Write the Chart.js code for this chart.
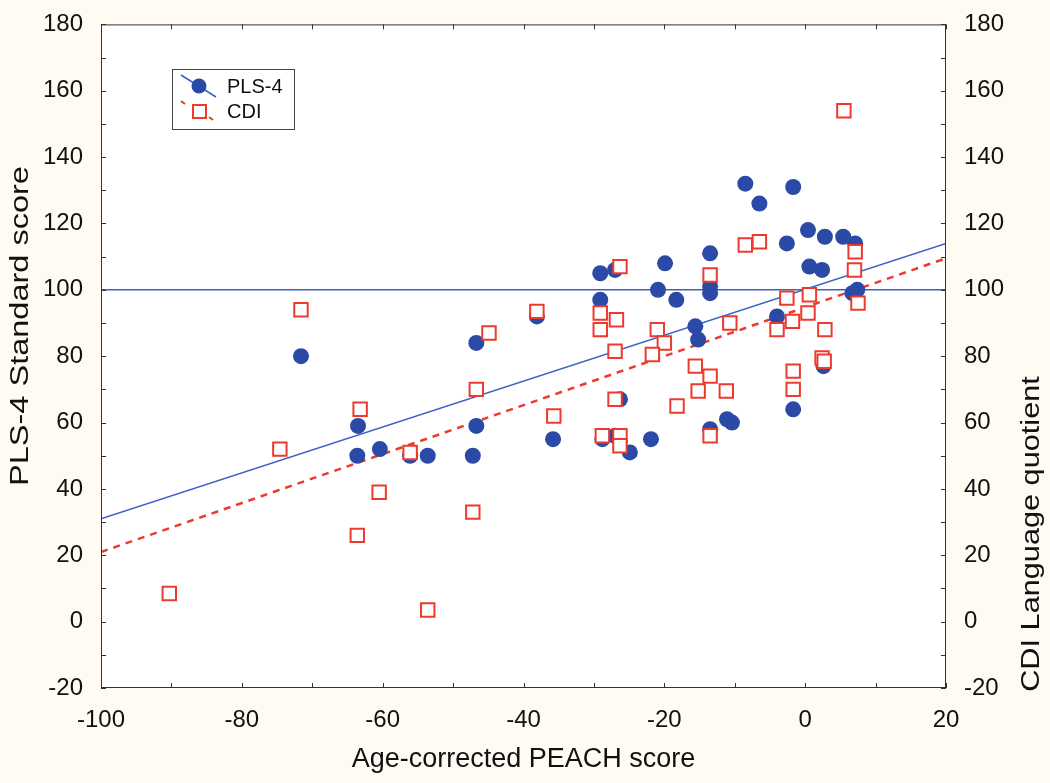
<!DOCTYPE html>
<html><head><meta charset="utf-8">
<script src="https://cdn.jsdelivr.net/npm/chart.js@4/dist/chart.umd.min.js"></script>
<style>
html,body{margin:0;padding:0;background:#fffaf2;}
#wrap{width:1050px;height:783px;position:relative;}
</style></head><body>
<div id="wrap"><canvas id="c" width="1050" height="783"></canvas></div>
<script>
// PLS-4 standard scores vs age-corrected PEACH score
const plsX = [-71.6,-63.5,-63.6,-60.4,-56.1,-53.6,-47.2,-46.7,-46.7,-38.1,-35.8,-29.1,-29.1,-27.0,-28.8,-27.0,-24.9,-26.3,-21.9,-20.9,-19.9,-18.3,-15.6,-15.2,-13.5,-13.5,-13.5,-11.1,-10.4,-13.5,-8.5,-6.5,-1.7,-2.6,-4.0,-1.7,0.4,0.6,2.4,2.8,5.4,7.1,7.4,6.7,2.6];
const plsY = [80,59,50,52,50,50,50,84,59,92,55,105,97,106,55,56,51,67,55,100,108,97,89,85,111,101,99,61,60,58,132,126,131,114,92,64,118,107,106,116,116,114,100,99,77];
// CDI language quotients vs age-corrected PEACH score
const cdiX = [-90.3,-74.6,-71.6,-63.2,-60.5,-63.6,-56.1,-53.6,-47.2,-44.9,-46.7,-38.1,-35.7,-29.1,-29.1,-26.8,-26.3,-27.0,-27.0,-28.8,-26.3,-26.3,-21.0,-20.0,-21.7,-15.6,-13.5,-15.2,-11.2,-18.2,-13.5,-13.5,-10.7,-8.5,-6.5,-4.0,-1.8,-2.6,0.6,0.4,2.8,2.4,2.7,-1.7,-1.7,5.5,7.1,7.0,7.5];
const cdiY = [8.5,52,94,64,39,26,51,3.5,33,87,70,93.5,62,93,88,91,107,81.5,67,56,56,53,88,84,80.5,77,74,69.5,69.5,65,56,104.5,90,113.5,114.5,88,90.5,97.5,98.5,93,88,79.5,78.5,75.5,70,154,111.5,106,96];
// Regression lines and reference line
const fitX = [-100, 20];
const plsFitY = [31, 114];
const cdiFitY = [21, 109.5];
const refY = [100, 100];
// Axis ticks
const xTicks = [-100,-80,-60,-40,-20,0,20];
const yTicks = [-20,0,20,40,60,80,100,120,140,160,180];
const seriesNames = ['PLS-4', 'CDI'];
const axisTitles = {x: 'Age-corrected PEACH score', y: 'PLS-4 Standard score', y2: 'CDI Language quotient'};

const BLUE = '#2a4aa6';
const BLUE_LINE = '#3a62c4';
const RED = '#ee3a2c';
const FONT = '"Liberation Sans", Arial, sans-serif';

const pts = (xs, ys) => xs.map((x, i) => ({x, y: ys[i]}));

const decor = {
  id: 'decor',
  beforeDraw(chart) {
    const {ctx, chartArea: a} = chart;
    ctx.save();
    ctx.fillStyle = '#fffaf2';
    ctx.fillRect(0, 0, chart.width, chart.height);
    ctx.fillStyle = '#ffffff';
    ctx.fillRect(a.left, a.top, a.right - a.left, a.bottom - a.top);
    ctx.restore();
  },
  afterDraw(chart) {
    const {ctx, chartArea: a, scales} = chart;
    ctx.save();
    ctx.strokeStyle = '#333';
    ctx.lineWidth = 1;
    ctx.strokeRect(a.left + 0.5, a.top + 0.5, a.right - a.left - 1, a.bottom - a.top - 1);
    const L = 5;
    ctx.beginPath();
    for (let v = xTicks[0]; v <= xTicks[xTicks.length - 1]; v += 10) {
      const px = Math.round(scales.x.getPixelForValue(v)) + 0.5;
      ctx.moveTo(px, a.bottom); ctx.lineTo(px, a.bottom - L);
      ctx.moveTo(px, a.top); ctx.lineTo(px, a.top + L);
    }
    for (let v = yTicks[0]; v <= yTicks[yTicks.length - 1]; v += 10) {
      const py = Math.round(scales.y.getPixelForValue(v)) + 0.5;
      ctx.moveTo(a.left, py); ctx.lineTo(a.left + L, py);
      ctx.moveTo(a.right, py); ctx.lineTo(a.right - L, py);
    }
    ctx.stroke();

    // axis titles
    ctx.fillStyle = '#111';
    ctx.font = '27px ' + FONT;
    ctx.textAlign = 'center';
    ctx.textBaseline = 'middle';
    ctx.fillText(axisTitles.x, (a.left + a.right) / 2, 760);
    ctx.font = '26px ' + FONT;
    ctx.save();
    ctx.translate(21, 326);
    ctx.rotate(-Math.PI / 2);
    ctx.scale(1.25, 1);
    ctx.fillText(axisTitles.y, 0, 0);
    ctx.restore();
    ctx.save();
    ctx.translate(1032, 534);
    ctx.rotate(-Math.PI / 2);
    ctx.scale(1.18, 1);
    ctx.fillText(axisTitles.y2, 0, 0);
    ctx.restore();

    // legend
    ctx.fillStyle = '#fff';
    ctx.fillRect(172, 69, 122, 60);
    ctx.strokeStyle = '#444';
    ctx.lineWidth = 1;
    ctx.strokeRect(172.5, 69.5, 122, 60);
    ctx.strokeStyle = BLUE_LINE; ctx.lineWidth = 1.5;
    ctx.beginPath(); ctx.moveTo(181, 75); ctx.lineTo(216, 97); ctx.stroke();
    ctx.fillStyle = BLUE;
    ctx.beginPath(); ctx.arc(199, 86, 7.5, 0, Math.PI * 2); ctx.fill();
    ctx.strokeStyle = RED; ctx.lineWidth = 2;
    ctx.beginPath();
    ctx.moveTo(181, 101); ctx.lineTo(185, 104);
    ctx.moveTo(209, 117); ctx.lineTo(213, 120);
    ctx.stroke();
    ctx.fillStyle = '#fff';
    ctx.fillRect(193, 105, 13, 13);
    ctx.strokeRect(193, 105, 13, 13);
    ctx.fillStyle = '#111';
    ctx.font = '20px ' + FONT;
    ctx.textAlign = 'left';
    ctx.fillText(seriesNames[0], 227, 87);
    ctx.fillText(seriesNames[1], 227, 112);
    ctx.restore();
  }
};

const tickFont = {family: FONT, size: 24};
new Chart(document.getElementById('c'), {
  type: 'scatter',
  data: {
    datasets: [
      {label: seriesNames[1], data: pts(cdiX, cdiY), yAxisID: 'y2', pointStyle: 'rect', pointRadius: 9.5,
       backgroundColor: '#ffffff', borderColor: RED, borderWidth: 2, order: 1},
      {label: seriesNames[0], data: pts(plsX, plsY), yAxisID: 'y', pointStyle: 'circle', pointRadius: 8,
       backgroundColor: BLUE, borderWidth: 0, order: 2},
      {label: 'CDI fit', data: pts(fitX, cdiFitY), yAxisID: 'y2', showLine: true, pointRadius: 0,
       borderColor: RED, borderWidth: 2.5, borderDash: [7, 6], order: 3},
      {label: 'PLS fit', data: pts(fitX, plsFitY), yAxisID: 'y', showLine: true, pointRadius: 0,
       borderColor: BLUE_LINE, borderWidth: 1.5, order: 4},
      {label: 'ref', data: pts(fitX, refY), yAxisID: 'y', showLine: true, pointRadius: 0,
       borderColor: BLUE_LINE, borderWidth: 1.5, order: 5}
    ]
  },
  options: {
    responsive: false,
    animation: false,
    devicePixelRatio: 1,
    layout: {padding: {top: 21, left: 0, right: 0, bottom: 0}},
    plugins: {legend: {display: false}, tooltip: {enabled: false}},
    scales: {
      x: {type: 'linear', min: -100, max: 20,
          afterBuildTicks: s => { s.ticks = xTicks.map(v => ({value: v})); },
          afterFit: s => { s.height = 95; },
          grid: {display: false}, border: {display: false},
          ticks: {font: tickFont, color: '#111', padding: 10, maxRotation: 0}},
      y: {type: 'linear', position: 'left', min: -20, max: 180,
          afterBuildTicks: s => { s.ticks = yTicks.map(v => ({value: v})); },
          afterFit: s => { s.width = 101; },
          grid: {display: false}, border: {display: false},
          ticks: {font: tickFont, color: '#111', padding: 10}},
      y2: {type: 'linear', position: 'right', min: -20, max: 180,
          afterBuildTicks: s => { s.ticks = yTicks.map(v => ({value: v})); },
          afterFit: s => { s.width = 104; },
          grid: {display: false}, border: {display: false},
          ticks: {font: tickFont, color: '#111', padding: 10}}
    }
  },
  plugins: [decor]
});
</script>
</body></html>
